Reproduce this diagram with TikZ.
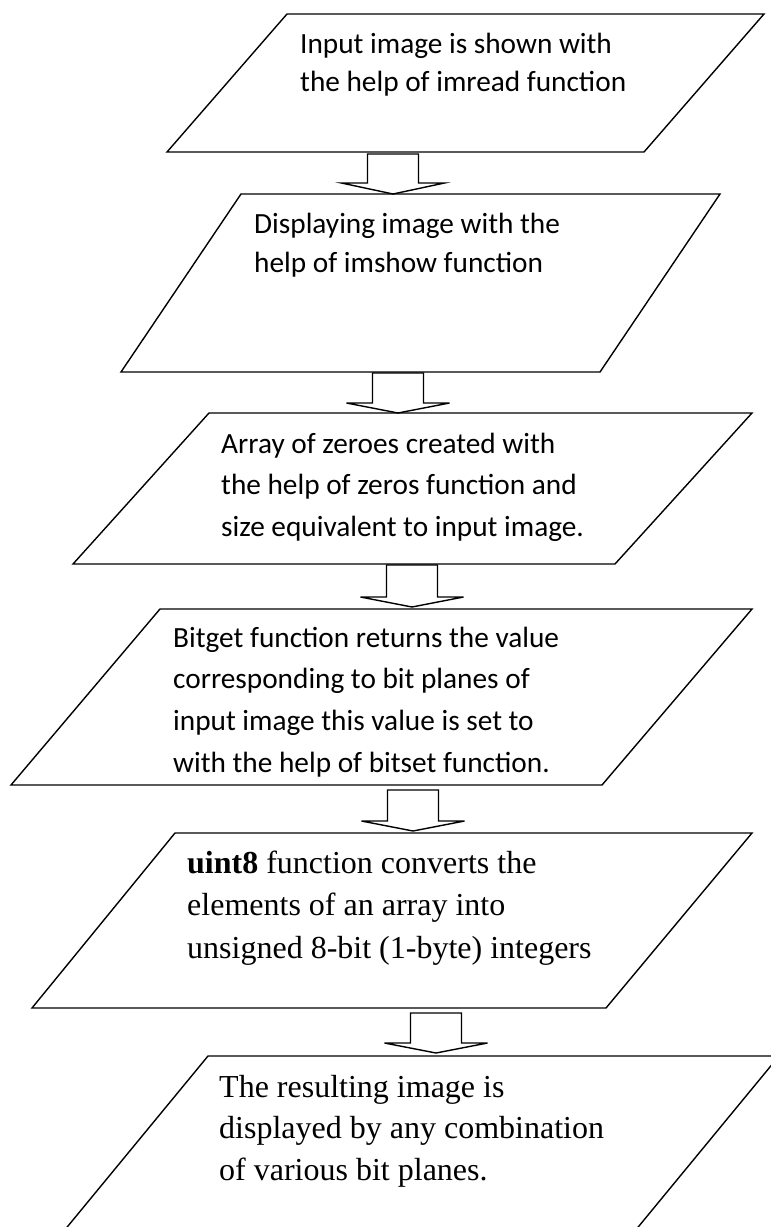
\documentclass[tikz,border=0pt]{standalone}
\usepackage{fontspec}
\newfontfamily\calfont{Carlito}
\newfontfamily\timesfont{Liberation Serif}
\tikzset{
  shapeline/.style={draw=black, line width=1.4pt, line join=miter},
  blockarr/.style={draw=black, fill=white, line width=1.4pt, line join=miter},
  ctext/.style={anchor=base west, inner sep=0pt, font=\calfont\fontsize{29.3}{35}\selectfont},
  ttext/.style={anchor=base west, inner sep=0pt, font=\timesfont\fontsize{32}{38}\selectfont},
}
\newcommand\blockarrow[4]{% #1 centre x, #2 stem top y, #3 wing y, #4 tip y
  \draw[blockarr] (#1-25.5,#2) -- (#1-25.5,#3) -- (#1-51.5,#3) -- (#1,#4)
    -- (#1+51.5,#3) -- (#1+25.5,#3) -- (#1+25.5,#2) -- cycle;}
\begin{document}
\begin{tikzpicture}[x=1pt,y=-1pt]
\useasboundingbox (0,0) rectangle (771,1227);
\fill[white] (0,0) rectangle (771,1227);
\clip (0,0) rectangle (771,1227);

% shape 1
\draw[shapeline] (287,14) coordinate (s1tl) -- (764,14) coordinate (s1tr)
  -- (644,152) coordinate (s1br) -- (167,152) coordinate (s1bl) -- cycle;
\node[ctext] (t1a) at (300,53) {Input image is shown with};
\node[ctext] (t1b) at (300,91) {the help of imread function};

% shape 2
\draw[shapeline] (241,194) coordinate (s2tl) -- (720,194) coordinate (s2tr)
  -- (600,372) coordinate (s2br) -- (121,372) coordinate (s2bl) -- cycle;
\node[ctext] (t2a) at (254,233) {Displaying image with the};
\node[ctext] (t2b) at (254,272) {help of imshow function};

% shape 3
\draw[shapeline] (209,413) coordinate (s3tl) -- (752,413) coordinate (s3tr)
  -- (615,564) coordinate (s3br) -- (73,564) coordinate (s3bl) -- cycle;
\node[ctext] (t3a) at (221,453) {Array of zeroes created with};
\node[ctext] (t3b) at (221,494) {the help of zeros function and};
\node[ctext] (t3c) at (221,536) {size equivalent to input image.};

% shape 4
\draw[shapeline] (160,609) coordinate (s4tl) -- (752,609) coordinate (s4tr)
  -- (602,785) coordinate (s4br) -- (11,785) coordinate (s4bl) -- cycle;
\node[ctext] (t4a) at (173,647) {Bitget function returns the value};
\node[ctext] (t4b) at (173,688) {corresponding to bit planes of};
\node[ctext] (t4c) at (173,730) {input image this value is set to};
\node[ctext] (t4d) at (173,772) {with the help of bitset function.};

% shape 5
\draw[shapeline] (175,833) coordinate (s5tl) -- (752,833) coordinate (s5tr)
  -- (606,1008) coordinate (s5br) -- (32,1008) coordinate (s5bl) -- cycle;
\node[ttext] (t5a) at (187,873) {\textbf{uint8} function converts the};
\node[ttext] (t5b) at (187,915) {elements of an array into};
\node[ttext] (t5c) at (187,958) {unsigned 8-bit (1-byte) integers};

% shape 6 (cut off by the page edge)
\draw[shapeline] (208,1056) coordinate (s6tl) -- (779,1056) coordinate (s6tr)
  -- (611,1260) coordinate (s6br) -- (40,1260) coordinate (s6bl) -- cycle;
\node[ttext] (t6a) at (219,1097) {The resulting image is};
\node[ttext] (t6b) at (219,1138) {displayed by any combination};
\node[ttext] (t6c) at (219,1180) {of various bit planes.};

% block arrows
\blockarrow{393}{154}{183}{194}
\blockarrow{398}{373}{403}{413}
\blockarrow{412}{565}{597}{607}
\blockarrow{413}{790}{821}{831}
\blockarrow{436}{1013}{1043}{1053}
\end{tikzpicture}
\end{document}
